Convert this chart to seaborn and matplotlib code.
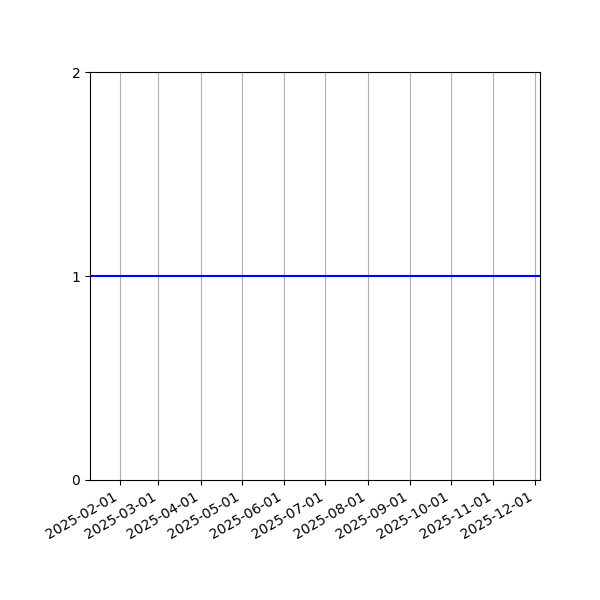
import matplotlib
matplotlib.use("Agg")
import matplotlib.dates as mdates
import matplotlib.pyplot as plt
import pandas as pd
import seaborn as sns

dates = ["2025-01-10", "2025-12-05"]
values = [1, 1]
y_ticks = [0, 1, 2]

df = pd.DataFrame({"date": pd.to_datetime(dates), "value": values})

fig, ax = plt.subplots(figsize=(6, 6), dpi=100)
sns.lineplot(data=df, x="date", y="value", color="blue", linewidth=1.5, ax=ax)

ax.set_xlim(df["date"].min(), df["date"].max())
ax.set_ylim(0, 2)
ax.set_yticks(y_ticks)
ax.xaxis.set_major_locator(mdates.MonthLocator())
ax.xaxis.set_major_formatter(mdates.DateFormatter("%Y-%m-%d"))
ax.grid(axis="x", color="#b0b0b0", linewidth=0.8)
ax.set_xlabel("")
ax.set_ylabel("")

fig.autofmt_xdate()
fig.subplots_adjust(left=0.15)
fig.savefig("out.png", dpi=100)
